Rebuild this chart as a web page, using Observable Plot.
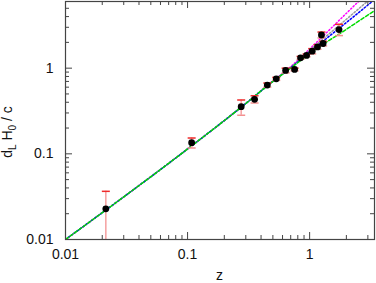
<!DOCTYPE html>
<html>
<head>
<meta charset="utf-8">
<script src="https://cdn.jsdelivr.net/npm/d3@7"></script>
<script src="https://cdn.jsdelivr.net/npm/@observablehq/plot@0.6"></script>
<style>
  html, body { margin: 0; padding: 0; background: #fff; }
  #chart svg { display: block; }
</style>
</head>
<body>
<div id="chart"></div>
<script>
// Observed points (z, d_L H0/c) with error bars
const zObs  = [0.0214, 0.108, 0.275, 0.354, 0.45, 0.533, 0.636, 0.753, 0.843, 0.944, 1.05, 1.16, 1.25, 1.29, 1.74];
const dlObs = [0.0228, 0.135, 0.355, 0.433, 0.634, 0.751, 0.94, 0.966, 1.32, 1.41, 1.58, 1.77, 2.44, 1.94, 2.82];
const dlLo  = [0.009, 0.117, 0.282, 0.392, 0.60, 0.72, 0.88, 0.93, 1.27, 1.36, 1.47, 1.66, 2.25, 1.82, 2.40];
const dlHi  = [0.0365, 0.153, 0.425, 0.476, 0.67, 0.78, 1.00, 1.00, 1.37, 1.46, 1.69, 1.88, 2.64, 2.06, 3.25];

// Model curves
const curveZ       = [0.01, 0.1, 0.275, 0.5, 0.7, 1.02, 2, 3.4];
const curveGreen   = [0.01, 0.114, 0.35, 0.70, 1.00, 1.51, 2.84, 4.69];
const curveBlue    = [0.01, 0.114, 0.35, 0.70, 1.01, 1.58, 3.41, 6.3];
const curveGray    = [0.01, 0.114, 0.35, 0.70, 1.02, 1.65, 3.72, 7.1];
const curveMagenta = [0.01, 0.114, 0.35, 0.71, 1.04, 1.72, 4.37, 9.1];

const xMajor = [0.01, 0.1, 1];
const xMinor = [0.02,0.03,0.04,0.05,0.06,0.07,0.08,0.09,0.2,0.3,0.4,0.5,0.6,0.7,0.8,0.9,2,3];
const yMajor = [0.01, 0.1, 1];
const yMinor = [0.02,0.03,0.04,0.05,0.06,0.07,0.08,0.09,0.2,0.3,0.4,0.5,0.6,0.7,0.8,0.9,2,3,4,5];
const xTickLabels = ["0.01", "0.1", "1"];
const yTickLabels = ["0.01", "0.1", "1"];

const obs = zObs.map((z, i) => ({z, dl: dlObs[i], lo: dlLo[i], hi: dlHi[i]}));
const mk = arr => curveZ.map((z, i) => ({z, dl: arr[i]}));
const xLab = xMajor.map((v, i) => ({v, label: xTickLabels[i]}));
const yLab = yMajor.map((v, i) => ({v, label: yTickLabels[i]}));

const W = 376, H = 283;
const mL = 65, mR = 2, mT = 1, mB = 44;
const pw = W - mL - mR, ph = H - mT - mB;
const maj = 7, mino = 4;

const cap = {draw(ctx, size) { const w = Math.sqrt(size / Math.PI); ctx.moveTo(-w, 0); ctx.lineTo(w, 0); }};

const tickCol = "#444";
const font = "'Liberation Sans', Arial, Helvetica, sans-serif";

const plot = Plot.plot({
  width: W, height: H,
  marginLeft: mL, marginRight: mR, marginTop: mT, marginBottom: mB,
  style: {fontFamily: font, fontSize: "14px", color: "#111", background: "#fff"},
  x: {type: "log", domain: [0.01, 3.4], label: null, axis: null},
  y: {type: "log", domain: [0.01, 6], label: null, axis: null},
  marks: [
    // curves
    Plot.line(mk(curveMagenta), {x: "z", y: "dl", stroke: "#ff00ff", strokeWidth: 1.5, strokeDasharray: "1.2,2.2", curve: "monotone-x", clip: true}),
    Plot.line(mk(curveGray), {x: "z", y: "dl", stroke: "#9a9a9a", strokeWidth: 1.5, strokeDasharray: "1.6,2", curve: "monotone-x", clip: true}),
    Plot.line(mk(curveBlue), {x: "z", y: "dl", stroke: "#0000ff", strokeWidth: 1.5, strokeDasharray: "1.6,2", curve: "monotone-x", clip: true}),
    Plot.line(mk(curveGreen), {x: "z", y: "dl", stroke: "#00dd00", strokeWidth: 1.5, strokeDasharray: "3.5,2", curve: "monotone-x", clip: true}),
    // error bars
    Plot.ruleX(obs, {x: "z", y1: "lo", y2: "hi", stroke: "#f5a0a0", strokeWidth: 1.5, clip: true}),
    Plot.dot(obs, {x: "z", y: "lo", symbol: cap, r: 4, stroke: "#f39090", strokeWidth: 1.5, fill: "none", clip: true}),
    Plot.dot(obs, {x: "z", y: "hi", symbol: cap, r: 4, stroke: "#ee2a2a", strokeWidth: 1.5, fill: "none", clip: true}),
    // points
    Plot.dot(obs, {x: "z", y: "dl", r: 3.4, fill: "#000", stroke: "none"}),
    // inward ticks
    Plot.tickX(xMajor, {x: d => d, insetTop: ph - maj, stroke: tickCol}),
    Plot.tickX(xMinor, {x: d => d, insetTop: ph - mino, stroke: tickCol}),
    Plot.tickX(xMajor, {x: d => d, insetBottom: ph - maj, stroke: tickCol}),
    Plot.tickX(xMinor, {x: d => d, insetBottom: ph - mino, stroke: tickCol}),
    Plot.tickY(yMajor, {y: d => d, insetRight: pw - maj, stroke: tickCol}),
    Plot.tickY(yMinor, {y: d => d, insetRight: pw - mino, stroke: tickCol}),
    Plot.tickY(yMajor, {y: d => d, insetLeft: pw - maj, stroke: tickCol}),
    Plot.tickY(yMinor, {y: d => d, insetLeft: pw - mino, stroke: tickCol}),
    // tick labels
    Plot.text(xLab, {x: "v", text: "label", frameAnchor: "bottom", lineAnchor: "top", dy: 10, fontSize: 14, fill: "#111"}),
    Plot.text(yLab, {y: "v", text: "label", frameAnchor: "left", textAnchor: "end", dx: -12, fontSize: 14, fill: "#111"}),
    Plot.frame({stroke: tickCol, strokeWidth: 1.2})
  ]
});

const svg = d3.select(plot);
// x axis label
svg.append("text")
  .attr("x", (mL + W - mR) / 2).attr("y", 283)
  .attr("text-anchor", "middle").attr("font-family", font).attr("font-size", 14).attr("fill", "#111")
  .attr("dy", "-0.2em")
  .text("z");
// y axis label with subscripts
const yl = svg.append("text")
  .attr("transform", "translate(12,132) rotate(-90)")
  .attr("text-anchor", "middle").attr("font-family", font).attr("font-size", 14).attr("fill", "#111");
yl.append("tspan").text("d");
yl.append("tspan").attr("font-size", 10).attr("dy", 4).text("L");
yl.append("tspan").attr("dy", -4).text(" H");
yl.append("tspan").attr("font-size", 10).attr("dy", 4).text("0");
yl.append("tspan").attr("dy", -4).text(" / c");

document.getElementById("chart").appendChild(plot);
</script>
</body>
</html>
